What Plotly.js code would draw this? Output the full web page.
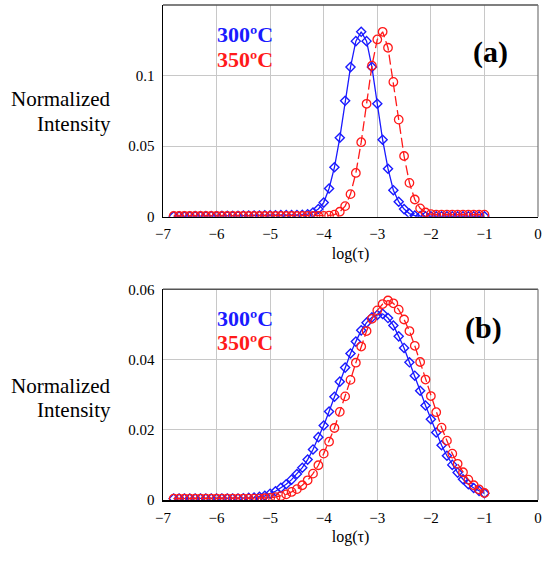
<!DOCTYPE html>
<html>
<head>
<meta charset="utf-8">
<script src="https://cdn.plot.ly/plotly-3.0.1.min.js"></script>
<style>html,body{margin:0;padding:0;background:#fff;}#chart{width:549px;height:562px;}</style>
</head>
<body>
<div id="chart"></div>
<script>
// log(tau) grid
var logTau = [-6.8,-6.7,-6.6,-6.5,-6.4,-6.3,-6.2,-6.1,-6.0,-5.9,-5.8,-5.7,-5.6,-5.5,-5.4,-5.3,-5.2,-5.1,-5.0,-4.9,
  -4.8,-4.7,-4.6,-4.5,-4.4,-4.3,-4.2,-4.1,-4.0,-3.9,-3.8,-3.7,-3.6,-3.5,-3.4,-3.3,-3.2,-3.1,-3.0,-2.9,
  -2.8,-2.7,-2.6,-2.5,-2.4,-2.3,-2.2,-2.1,-2.0,-1.9,-1.8,-1.7,-1.6,-1.5,-1.4,-1.3,-1.2,-1.1,-1.0];

// (a) panel
var a300 = [0.0003,0.0003,0.0003,0.0003,0.0004,0.0004,0.0004,0.0005,0.0005,0.0006,0.0006,0.0007,0.0007,0.0008,0.0008,0.0009,0.0009,0.0010,0.0010,0.0010,
  0.0011,0.0011,0.0011,0.0012,0.0013,0.0018,0.0030,0.0055,0.0100,0.0200,0.0350,0.0559,0.0821,0.1060,0.1244,0.1310,0.1244,0.1060,0.0800,0.0545,
  0.0340,0.0188,0.0106,0.0054,0.0022,0.0008,0.0004,0.0003,0.0003,0.0003,0.0003,0.0003,0.0003,0.0003,0.0003,0.0003,0.0003,0.0003,0.0003];
var a350 = [0.0005,0.0005,0.0005,0.0005,0.0005,0.0005,0.0005,0.0005,0.0005,0.0005,0.0005,0.0005,0.0005,0.0005,0.0005,0.0005,0.0005,0.0005,0.0005,0.0005,
  0.0005,0.0005,0.0005,0.0005,0.0005,0.0005,0.0005,0.0005,0.0006,0.0008,0.0015,0.0035,0.0075,0.0160,0.0310,0.0528,0.0800,0.1070,0.1256,0.1310,
  0.1197,0.0955,0.0688,0.0430,0.0240,0.0122,0.0059,0.0030,0.0018,0.0015,0.0015,0.0015,0.0015,0.0015,0.0015,0.0015,0.0015,0.0015,0.0015];

// (b) panel
var b300 = [0.0004,0.0004,0.0004,0.0004,0.0004,0.0004,0.0004,0.0004,0.0004,0.0004,0.0004,0.0004,0.0004,0.0005,0.0006,0.0007,0.0009,0.0012,0.0018,0.0025,
  0.0035,0.0045,0.0058,0.0074,0.0092,0.0115,0.0144,0.0179,0.0212,0.0252,0.0294,0.0337,0.0377,0.0417,0.0451,0.0483,0.0505,0.0520,0.0527,0.0530,
  0.0518,0.0497,0.0466,0.0433,0.0392,0.0354,0.0311,0.0269,0.0230,0.0192,0.0156,0.0126,0.0100,0.0078,0.0059,0.0045,0.0034,0.0026,0.0019];
var b350 = [0.0004,0.0004,0.0004,0.0004,0.0004,0.0004,0.0004,0.0004,0.0004,0.0004,0.0004,0.0004,0.0004,0.0004,0.0004,0.0004,0.0004,0.0005,0.0006,0.0008,
  0.0011,0.0016,0.0023,0.0031,0.0042,0.0056,0.0075,0.0099,0.0132,0.0166,0.0205,0.0251,0.0295,0.0342,0.0391,0.0437,0.0481,0.0516,0.0540,0.0558,
  0.0568,0.0560,0.0542,0.0514,0.0481,0.0439,0.0393,0.0343,0.0296,0.0250,0.0206,0.0169,0.0132,0.0103,0.0079,0.0058,0.0042,0.0030,0.0020];

var xTicks = [-7,-6,-5,-4,-3,-2,-1,0];
var yTicksA = [0, 0.05, 0.1];
var yTextA = ['0', '0.05', '0.1'];
var yTicksB = [0, 0.02, 0.04, 0.06];
var yTextB = ['0', '0.02', '0.04', '0.06'];
var seriesNames = ['300ºC', '350ºC'];
var panelLabels = ['(a)', '(b)'];
var yLabelLines = ['Normalized', 'Intensity'];
var xLabel = 'log(τ)';

var BLUE = '#1a1aff', RED = '#ff1a1a';
var serif = 'Liberation Serif, serif';

function blueTrace(y, xa, ya) {
  return {x: logTau, y: y, xaxis: xa, yaxis: ya, mode: 'lines+markers', name: seriesNames[0],
    line: {color: BLUE, width: 1.3},
    marker: {symbol: 'diamond-open', size: 7, color: BLUE, line: {width: 1.4, color: BLUE}}};
}
function redTrace(y, xa, ya) {
  return {x: logTau, y: y, xaxis: xa, yaxis: ya, mode: 'lines+markers', name: seriesNames[1],
    line: {color: RED, width: 1.3, dash: '10px,4px'},
    marker: {symbol: 'circle-open', size: 8.5, color: RED, line: {width: 1.3, color: RED}}};
}

var data = [blueTrace(a300, 'x', 'y'), redTrace(a350, 'x', 'y'),
            blueTrace(b300, 'x2', 'y2'), redTrace(b350, 'x2', 'y2')];

function xAxis(anchor) {
  return {anchor: anchor, range: [-7, 0], tickvals: xTicks, showgrid: true, gridcolor: '#c8c8c8', gridwidth: 1,
    zeroline: false, showline: true, linecolor: '#000', linewidth: 1.5, ticks: '', ticklabelstandoff: 3,
    tickfont: {family: serif, size: 15, color: '#000'},
    title: {text: xLabel, font: {family: serif, size: 16, color: '#000'}, standoff: 6}};
}
function yAxis(anchor, dom, rng, tv, tt) {
  return {anchor: anchor, domain: dom, range: rng, tickvals: tv, ticktext: tt, showgrid: true, gridcolor: '#c8c8c8',
    gridwidth: 1, zeroline: false, showline: true, linecolor: '#000', linewidth: 1.5, ticks: '', ticklabelstandoff: 4,
    tickfont: {family: serif, size: 15, color: '#000'}};
}

function frame(xr, yr) {
  return [
    {type: 'line', xref: xr + ' domain', yref: yr + ' domain', x0: 0, x1: 1, y0: 1, y1: 1, line: {color: '#555', width: 1.5}},
    {type: 'line', xref: xr + ' domain', yref: yr + ' domain', x0: 1, x1: 1, y0: 0, y1: 1, line: {color: '#777', width: 1.2}}
  ];
}

function ann(text, xr, yr, x, y, color, size, bold) {
  return {text: bold ? '<b>' + text + '</b>' : text, xref: xr, yref: yr, x: x, y: y, showarrow: false,
    xanchor: 'center', yanchor: 'middle', font: {family: serif, size: size, color: color}};
}
function ylab(text, y) {
  return {text: text, xref: 'paper', yref: 'paper', x: -0.133, y: y, showarrow: false, xanchor: 'right',
    yanchor: 'middle', font: {family: serif, size: 21, color: '#000'}};
}

var annotations = [
  ann(seriesNames[0], 'x domain', 'y domain', 0.219, 0.863, BLUE, 22, true),
  ann(seriesNames[1], 'x domain', 'y domain', 0.219, 0.743, RED, 22, true),
  ann(panelLabels[0], 'x domain', 'y domain', 0.873, 0.778, '#000', 30, true),
  ann(seriesNames[0], 'x2 domain', 'y2 domain', 0.219, 0.861, BLUE, 22, true),
  ann(seriesNames[1], 'x2 domain', 'y2 domain', 0.219, 0.748, RED, 22, true),
  ann(panelLabels[1], 'x2 domain', 'y2 domain', 0.854, 0.816, '#000', 30, true),
  ylab(yLabelLines[0], 0.810), ylab(yLabelLines[1], 0.760),
  ylab(yLabelLines[0], 0.230), ylab(yLabelLines[1], 0.182)
];

var layout = {
  width: 549, height: 562,
  margin: {l: 163, r: 11, t: 5, b: 62},
  paper_bgcolor: '#fff', plot_bgcolor: '#fff',
  font: {family: serif},
  showlegend: false,
  xaxis: xAxis('y'),
  yaxis: yAxis('x', [0.5723, 1], [0, 0.15], yTicksA, yTextA),
  xaxis2: xAxis('y2'),
  yaxis2: yAxis('x2', [0, 0.4257], [0, 0.06], yTicksB, yTextB),
  shapes: frame('x', 'y').concat(frame('x2', 'y2')),
  annotations: annotations
};

Plotly.newPlot('chart', data, layout, {displayModeBar: false, staticPlot: true});
</script>
</body>
</html>
